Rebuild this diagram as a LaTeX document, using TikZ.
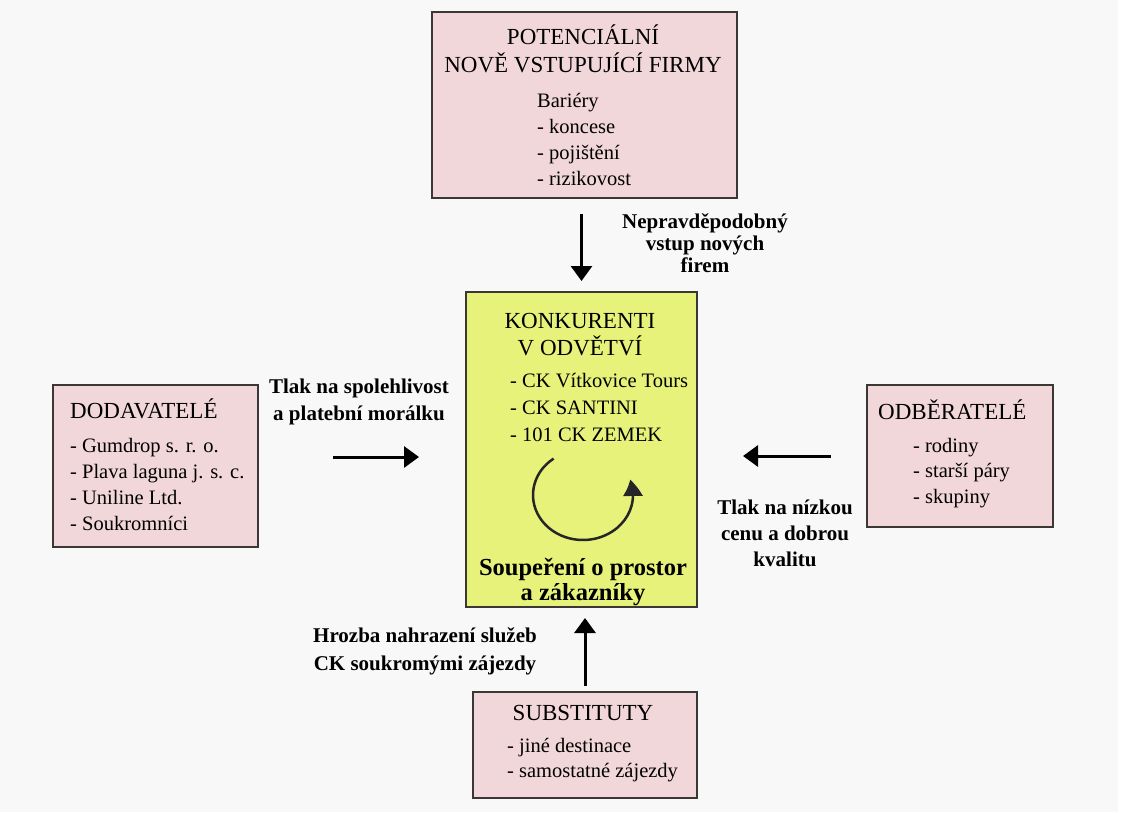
\documentclass[tikz,border=0pt]{standalone}
\usepackage{fontspec}
\setmainfont{Liberation Serif}
\usetikzlibrary{arrows.meta,bending}

\definecolor{pinkbox}{RGB}{242,215,218}
\definecolor{limebox}{RGB}{230,242,122}
\definecolor{edge}{RGB}{60,55,55}
\definecolor{bgpaper}{RGB}{248,248,248}

\begin{document}
\begin{tikzpicture}[
x=1pt, y=-1pt,
box/.style={draw=edge, line width=2pt, fill=pinkbox, inner sep=0pt},
title/.style={anchor=base, inner sep=0pt, font=\fontsize{23}{27}\selectfont},
item/.style={anchor=base west, inner sep=0pt, font=\fontsize{20.5}{25}\selectfont},
lbl/.style={anchor=base, inner sep=0pt, font=\fontsize{21}{26}\selectfont\bfseries},
arr/.style={-{Triangle[length=15pt, width=21pt]}, line width=3pt},
cyc/.style={-{Triangle[length=17pt, width=19pt, bend]}, line width=2.5pt, draw=black!85}
]
\useasboundingbox (0,0) rectangle (1130,812);
\fill[bgpaper] (0,0) rectangle (1118,812);

% boxes
\node[box, minimum width=305pt, minimum height=186pt] (entry) at (584.5,105) {};
\node[box, fill=limebox, minimum width=231pt, minimum height=315pt] (comp) at (581.5,449.5) {};
\node[box, minimum width=205pt, minimum height=162pt] (sup) at (155.5,466) {};
\node[box, minimum width=186pt, minimum height=142pt] (cust) at (960,456) {};
\node[box, minimum width=224pt, minimum height=106pt] (subst) at (585,745) {};

% new entrants
\node[title] (entry-t1) at (583,44) {POTENCIÁLNÍ};
\node[title] (entry-t2) at (583,72) {NOVĚ VSTUPUJÍCÍ FIRMY};
\foreach \txt [count=\i from 0] in {Bariéry, - koncese, - pojištění, - rizikovost}
  \node[item] (entry-\i) at (537,107+26*\i) {\txt};

% competitors
\node[title] (comp-t1) at (580,328) {KONKURENTI};
\node[title] (comp-t2) at (580,355) {V ODVĚTVÍ};
\foreach \txt [count=\i from 0] in {- CK Vítkovice Tours, - CK SANTINI, - 101 CK ZEMEK}
  \node[item] (comp-\i) at (510,387+27*\i) {\txt};
\node[lbl, font=\fontsize{24.5}{28}\selectfont\bfseries] (comp-b1) at (583,575) {Soupeření o prostor};
\node[lbl, font=\fontsize{24.5}{28}\selectfont\bfseries] (comp-b2) at (583,600) {a zákazníky};
\coordinate (rot) at (583,495);
\draw[cyc] ([shift={(126:50pt and 45pt)}]rot) arc[start angle=126, end angle=380, x radius=50pt, y radius=45pt];

% suppliers
\node[title, anchor=base west] (sup-t) at (70,418) {DODAVATELÉ};
\foreach \txt [count=\i from 0] in {- Gumdrop s. r. o., - Plava laguna j. s. c., - Uniline Ltd., - Soukromníci}
  \node[item] (sup-\i) at (70,452+26*\i) {\txt};

% buyers
\node[title, anchor=base west] (cust-t) at (878,419) {ODBĚRATELÉ};
\foreach \txt [count=\i from 0] in {- rodiny, - starší páry, - skupiny}
  \node[item] (cust-\i) at (913,452+25.5*\i) {\txt};

% substitutes
\node[title] (subst-t) at (583,720) {SUBSTITUTY};
\foreach \txt [count=\i from 0] in {- jiné destinace, - samostatné zájezdy}
  \node[item] (subst-\i) at (507,752+25*\i) {\txt};

% force labels
\foreach \txt [count=\i from 0] in {Nepravděpodobný, vstup nových, firem}
  \node[lbl] (entry-l\i) at (705,228+22*\i) {\txt};
\foreach \txt [count=\i from 0] in {Tlak na spolehlivost, a platební morálku}
  \node[lbl] (sup-l\i) at (359,393+27*\i) {\txt};
\foreach \txt [count=\i from 0] in {Tlak na nízkou, cenu a dobrou, kvalitu}
  \node[lbl] (cust-l\i) at (785,514+26*\i) {\txt};
\foreach \txt [count=\i from 0] in {Hrozba nahrazení služeb, CK soukromými zájezdy}
  \node[lbl] (subst-l\i) at (425,642+28*\i) {\txt};

% forces
\draw[arr, shorten <=15pt, shorten >=10pt] (entry.south -| comp.north) -- (comp.north);
\draw[arr, shorten <=74pt, shorten >=46pt] ([yshift=9pt]sup.east) -- ([yshift=9pt]sup.east -| comp.west);
\draw[arr, shorten <=35pt, shorten >=45pt] (cust.west) -- (cust.west -| comp.east);
\draw[arr, shorten <=5pt, shorten >=10pt] (subst.north) -- (subst.north |- comp.south);

\end{tikzpicture}
\end{document}
